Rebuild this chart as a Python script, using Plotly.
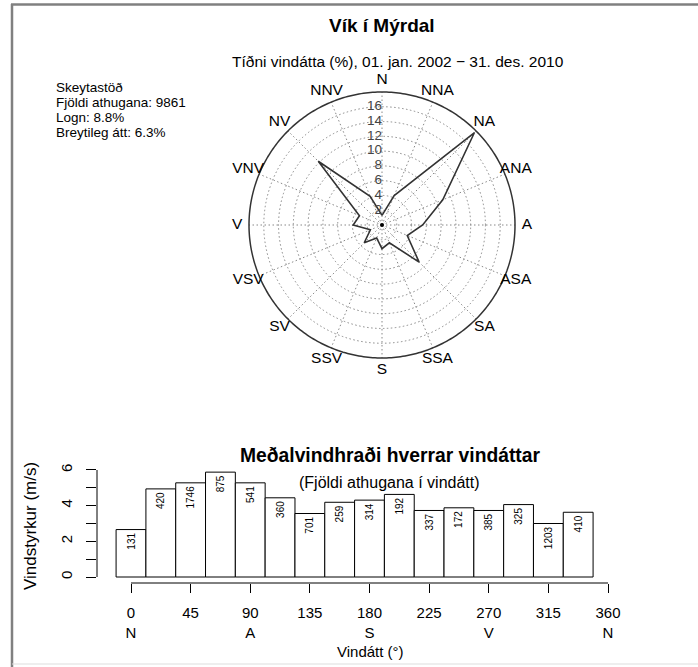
import numpy as np
import plotly.graph_objects as go

W, H = 698, 667

# ---- data ----
dir_labels = ["N", "NNA", "NA", "ANA", "A", "ASA", "SA", "SSA",
              "S", "SSV", "SV", "VSV", "V", "VNV", "NV", "NNV"]
dir_angles = [0, 22.5, 45, 67.5, 90, 112.5, 135, 157.5,
              180, 202.5, 225, 247.5, 270, 292.5, 315, 337.5]
freq_pct = [1.3, 4.3, 17.7, 8.9, 5.5, 3.7, 7.1, 2.6,
            3.2, 1.9, 3.4, 1.7, 3.9, 3.3, 12.2, 4.2]
ring_vals = [2, 4, 6, 8, 10, 12, 14, 16]
r_max = 18        # outer solid circle
r_axis = 21       # polar axis range (room for direction labels)
label_r = 19.6

mean_speed = [2.66, 4.94, 5.28, 5.88, 5.28, 4.44, 3.56, 4.19,
              4.31, 4.63, 3.73, 3.88, 3.73, 4.06, 3.00, 3.63]
obs_count = [131, 420, 1746, 875, 541, 360, 701, 259,
             314, 192, 337, 172, 385, 325, 1203, 410]

x_tickvals = [0, 45, 90, 135, 180, 225, 270, 315, 360]
x_ticktext = ["0<br>N", "45", "90<br>A", "135", "180<br>S", "225",
              "270<br>V", "315", "360<br>N"]
y_tickvals = [0, 1, 2, 3, 4, 5, 6]
y_ticktext = ["0", "", "2", "", "4", "", "6"]

info_lines = ["Skeytastöð", "Fjöldi athugana: 9861", "Logn: 8.8%",
              "Breytileg átt: 6.3%"]

FONT = "Liberation Sans"
DOT = "1.5px,2.5px"


def px(x):
    return x / W


def py(y):
    return 1 - y / H


fig = go.Figure()

# ---- polar rose ----
# spokes (dotted) from centre to the outer circle
spoke_r, spoke_t = [], []
for a in dir_angles:
    spoke_r += [0, r_max, None]
    spoke_t += [a, a, None]
fig.add_trace(go.Scatterpolar(
    r=spoke_r, theta=spoke_t, mode="lines", connectgaps=False,
    line=dict(color="#888888", width=1, dash=DOT),
    showlegend=False, hoverinfo="skip", subplot="polar"))
# outer solid circle
circ_t = np.linspace(0, 360, 361)
fig.add_trace(go.Scatterpolar(
    r=[r_max] * len(circ_t), theta=circ_t, mode="lines",
    line=dict(color="#333333", width=1.5),
    showlegend=False, hoverinfo="skip", subplot="polar"))
# frequency polygon
fig.add_trace(go.Scatterpolar(
    r=freq_pct + freq_pct[:1], theta=dir_angles + dir_angles[:1],
    mode="lines", line=dict(color="#333333", width=1.6),
    showlegend=False, hoverinfo="skip", subplot="polar"))
# ring labels
fig.add_trace(go.Scatterpolar(
    r=ring_vals, theta=[0] * len(ring_vals), mode="text",
    text=[str(v) for v in ring_vals], textposition="middle left",
    textfont=dict(size=13.5, family=FONT, color="#444444"),
    showlegend=False, hoverinfo="skip", subplot="polar"))
# direction labels
fig.add_trace(go.Scatterpolar(
    r=[label_r] * len(dir_labels), theta=dir_angles, mode="text",
    text=dir_labels, textposition="middle center",
    textfont=dict(size=15.5, family=FONT, color="black"),
    showlegend=False, hoverinfo="skip", subplot="polar"))
# centre marks
fig.add_trace(go.Scatterpolar(
    r=[0], theta=[0], mode="markers",
    marker=dict(size=12, color="rgba(0,0,0,0)", symbol="circle-open",
                line=dict(color="#aaaaaa", width=1)),
    showlegend=False, hoverinfo="skip", subplot="polar"))
fig.add_trace(go.Scatterpolar(
    r=[0], theta=[0], mode="markers",
    marker=dict(size=4, color="black"),
    showlegend=False, hoverinfo="skip", subplot="polar"))

# ---- bar chart ----
fig.add_trace(go.Bar(
    x=dir_angles, y=mean_speed, width=22.5,
    marker=dict(color="white", line=dict(color="black", width=1)),
    text=[str(c) for c in obs_count], textposition="inside",
    insidetextanchor="end", textangle=-90,
    textfont=dict(size=10, color="black", family=FONT),
    showlegend=False, hoverinfo="skip", xaxis="x", yaxis="y"))

R_PX = 133.0 * r_axis / r_max
CX, CY = 382.0, 225.0

fig.update_layout(
    width=W, height=H,
    margin=dict(l=0, r=0, t=0, b=0),
    paper_bgcolor="white", plot_bgcolor="white",
    font=dict(family=FONT, color="black"),
    polar=dict(
        domain=dict(x=[px(CX - R_PX), px(CX + R_PX)],
                    y=[py(CY + R_PX), py(CY - R_PX)]),
        bgcolor="rgba(0,0,0,0)",
        angularaxis=dict(
            direction="clockwise", rotation=90,
            showticklabels=False, showline=False, showgrid=False, ticks=""),
        radialaxis=dict(
            range=[0, r_axis], tickmode="array", tickvals=ring_vals,
            showticklabels=False,
            showline=False, showgrid=True, gridcolor="#888888",
            griddash=DOT, gridwidth=1, ticks=""),
    ),
    xaxis=dict(
        domain=[px(97), px(620)], range=[-25.66, 369.06],
        tickmode="array", tickvals=x_tickvals, ticktext=x_ticktext,
        ticks="outside", ticklen=9, tickcolor="black", tickwidth=1,
        ticklabelstandoff=7,
        showline=False, showgrid=False, zeroline=False,
        tickfont=dict(size=15, family=FONT)),
    yaxis=dict(
        domain=[py(583), py(460)], range=[-0.336, 6.56],
        tickmode="array", tickvals=y_tickvals, ticktext=y_ticktext,
        ticks="outside", ticklen=10, tickcolor="black", tickwidth=1,
        tickangle=-90, ticklabelstandoff=8,
        showline=False, showgrid=False, zeroline=False,
        tickfont=dict(size=15, family=FONT)),
)

# axis lines (R style: only across tick range)
fig.add_shape(type="line", xref="x", yref="y domain", x0=0, x1=360, y0=0, y1=0,
              line=dict(color="black", width=1))
fig.add_shape(type="line", xref="x domain", yref="y", x0=0, x1=0, y0=0, y1=6,
              line=dict(color="black", width=1))

# frame lines of the picture
fig.add_shape(type="line", xref="paper", yref="paper", x0=px(11), x1=px(698),
              y0=py(4.5), y1=py(4.5), line=dict(color="#808080", width=2.5))
fig.add_shape(type="line", xref="paper", yref="paper", x0=px(12), x1=px(12),
              y0=py(4), y1=py(667), line=dict(color="#808080", width=2.5))
fig.add_shape(type="line", xref="paper", yref="paper", x0=px(12), x1=px(698),
              y0=py(664), y1=py(664), line=dict(color="#dddddd", width=1))

# texts
def ann(text, x, y, size, bold=False, xanchor="center", angle=0):
    fig.add_annotation(text=("<b>%s</b>" % text) if bold else text,
                       x=px(x), y=py(y), xref="paper", yref="paper",
                       showarrow=False, xanchor=xanchor, yanchor="middle",
                       textangle=angle,
                       font=dict(size=size, family=FONT, color="black"))

ann("Vík í Mýrdal", 382, 25, 19, bold=True)
ann("Tíðni vindátta (%), 01. jan. 2002 − 31. des. 2010", 398, 61, 15.5)
for i, line in enumerate(info_lines):
    ann(line, 54, 87 + i * 15.2, 13.5, xanchor="left")

ann("Meðalvindhraði hverrar vindáttar", 390, 455, 19.3, bold=True)
ann("(Fjöldi athugana í vindátt)", 389, 482, 16)
ann("Vindstyrkur (m/s)", 30, 526, 17, angle=-90)
ann("Vindátt (°)", 370, 651, 15)

fig.write_html(
    "out.html",
    config={"displayModeBar": False},
    post_script="document.body.style.margin='0px';"
                "document.body.style.overflow='hidden';")
